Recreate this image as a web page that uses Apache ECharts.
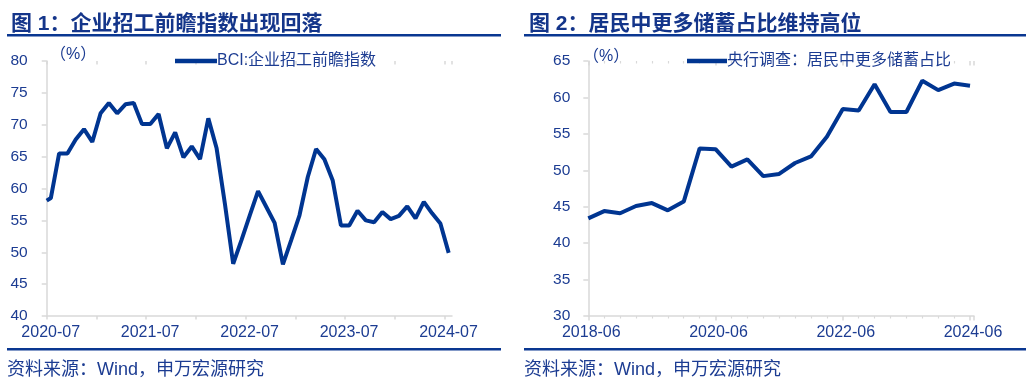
<!DOCTYPE html>
<html><head><meta charset="utf-8">
<script src="https://cdn.jsdelivr.net/npm/echarts@6/dist/echarts.min.js"></script>
<style>html,body{margin:0;padding:0;background:#fff}#c{width:1036px;height:382px}</style>
</head><body><div id="c"></div>
<script>
// ---- Figure 1: BCI hiring forward-looking index ----
const bciDates = ['2020-07-01','2020-07-16','2020-08-16','2020-09-16','2020-10-16','2020-11-16','2020-12-16',
  '2021-01-16','2021-02-16','2021-03-16','2021-04-16','2021-05-16','2021-06-16','2021-07-16','2021-08-16','2021-09-16','2021-10-16','2021-11-16','2021-12-16',
  '2022-01-16','2022-02-16','2022-03-16','2022-04-16','2022-05-16','2022-06-16','2022-07-16','2022-08-16','2022-09-16','2022-10-16','2022-11-16','2022-12-16',
  '2023-01-16','2023-02-16','2023-03-16','2023-04-16','2023-05-16','2023-06-16','2023-07-16','2023-08-16','2023-09-16','2023-10-16','2023-11-16','2023-12-16',
  '2024-01-16','2024-02-16','2024-03-16','2024-04-16','2024-05-16','2024-06-16','2024-07-16'];
const bciValues = [58.1,58.5,65.5,65.5,67.7,69.3,67.3,
  71.8,73.4,71.8,73.2,73.4,70.1,70.1,71.7,66.3,68.8,64.9,66.6,
  64.6,71.0,66.3,57.6,48.2,51.9,55.8,59.6,57.1,54.6,48.1,51.9,
  55.8,61.8,66.2,64.6,61.3,54.2,54.2,56.5,55.0,54.7,56.3,55.2,
  55.7,57.2,55.3,57.9,56.1,54.5,49.9];
const bciTickLabels = ['2020-07','2021-07','2022-07','2023-07','2024-07'];

// ---- Figure 2: PBOC survey, share of households preferring more saving ----
const saveQuarters = ['2018-06','2018-09','2018-12','2019-03','2019-06','2019-09','2019-12',
  '2020-03','2020-06','2020-09','2020-12','2021-03','2021-06','2021-09','2021-12',
  '2022-03','2022-06','2022-09','2022-12','2023-03','2023-06','2023-09','2023-12',
  '2024-03','2024-06'];
const saveValues = [43.4,44.4,44.1,45.1,45.5,44.5,45.7,
  53.0,52.9,50.5,51.5,49.2,49.5,51.0,51.9,
  54.6,58.4,58.2,61.8,58.0,58.0,62.3,61.0,
  61.9,61.6];
const saveTickLabels = ['2018-06','2020-06','2022-06','2024-06'];

const FONT = '"Liberation Sans", Arial, "Noto Sans CJK SC", sans-serif';
const BLUE_TXT = '#1c3c92';
const BLUE_LINE = '#003591';
const GRAY = '#d9d9d9';

function monthsFrom2007(s){const p=s.split('-').map(Number);return (p[0]-2020)*12+(p[1]-7)+(p[2]-1)/30;}
function quartersFrom1806(s){const p=s.split('-').map(Number);return (p[0]-2018)*4+(p[1]-6)/3;}

const bciData = bciDates.map((d,i)=>[monthsFrom2007(d), bciValues[i]]);
const saveData = saveQuarters.map((d,i)=>[quartersFrom1806(d), saveValues[i]]);

const chart = echarts.init(document.getElementById('c'));

function yAxisCfg(grid,min,max,margin){
  return {type:'value',gridIndex:grid,min:min,max:max,interval:5,
    axisLine:{show:true,lineStyle:{color:GRAY,width:1.5}},
    axisTick:{show:true,length:5,lineStyle:{color:GRAY,width:1.5}},
    splitLine:{show:false},
    axisLabel:{color:BLUE_TXT,fontSize:15.5,fontFamily:FONT,margin:margin}};
}

chart.setOption({
  animation:false,
  textStyle:{fontFamily:FONT},
  title:[
    {text:'图 1：企业招工前瞻指数出现回落',left:6,top:9,textStyle:{fontSize:21,fontWeight:'bold',color:'#14358a',fontFamily:FONT}},
    {text:'图 2：居民中更多储蓄占比维持高位',left:524,top:9,textStyle:{fontSize:21,fontWeight:'bold',color:'#14358a',fontFamily:FONT}}
  ],
  legend:[
    {data:['BCI:企业招工前瞻指数'],left:170,top:48,icon:'rect',itemWidth:42,itemHeight:4.5,itemGap:0,
     textStyle:{color:BLUE_TXT,fontSize:16,fontFamily:FONT,padding:[0,0,0,-5]}},
    {data:['央行调查：居民中更多储蓄占比'],left:682,top:48,icon:'rect',itemWidth:40,itemHeight:4.5,itemGap:0,
     textStyle:{color:BLUE_TXT,fontSize:16,fontFamily:FONT,padding:[0,0,0,-5]}}
  ],
  grid:[
    {left:46.7,right:584,top:61,bottom:66},
    {left:588.3,right:62,top:61,bottom:66}
  ],
  xAxis:[
    {type:'value',gridIndex:0,min:0,max:48.9,interval:6,
     axisLine:{show:true,lineStyle:{color:GRAY,width:1.5}},
     axisTick:{show:true,length:3.5,lineStyle:{color:GRAY,width:1.5}},
     splitLine:{show:false},
     axisLabel:{color:BLUE_TXT,fontSize:16,fontFamily:FONT,margin:9,padding:[0,0,0,8],showMaxLabel:false,
       formatter:function(v){return (Math.round(v)%12===0)?bciTickLabels[Math.round(v)/12]:'';}}},
    {type:'value',gridIndex:0,min:0,max:48.9,interval:6,
     axisLine:{show:false},axisLabel:{show:false},splitLine:{show:false},
     axisTick:{show:true,inside:true,length:3.5,lineStyle:{color:GRAY,width:1.5}}},
    {type:'value',gridIndex:1,min:0,max:24.25,interval:8,
     axisLine:{show:true,lineStyle:{color:GRAY,width:1.5}},
     axisTick:{show:true,length:4.5,lineStyle:{color:GRAY,width:1.5}},
     minorTick:{show:true,splitNumber:8,length:2.5,lineStyle:{color:GRAY,width:1.2}},
     splitLine:{show:false},
     axisLabel:{color:BLUE_TXT,fontSize:16,fontFamily:FONT,margin:9,padding:[0,0,0,6],showMaxLabel:false,
       formatter:function(v){return (Math.round(v)%8===0)?saveTickLabels[Math.round(v)/8]:'';}}},
    {type:'value',gridIndex:1,min:0,max:24.25,interval:8,
     axisLine:{show:false},axisLabel:{show:false},splitLine:{show:false},
     axisTick:{show:true,inside:true,length:4.5,lineStyle:{color:GRAY,width:1.5}},
     minorTick:{show:true,splitNumber:8,length:2.5,lineStyle:{color:GRAY,width:1.2}}}
  ],
  yAxis:[yAxisCfg(0,40,80,19), yAxisCfg(1,30,65,18)],
  series:[
    {name:'BCI:企业招工前瞻指数',type:'line',xAxisIndex:0,yAxisIndex:0,data:bciData,
     showSymbol:false,lineStyle:{color:BLUE_LINE,width:4},itemStyle:{color:BLUE_LINE}},
    {name:'央行调查：居民中更多储蓄占比',type:'line',xAxisIndex:2,yAxisIndex:1,data:saveData,
     showSymbol:false,lineStyle:{color:BLUE_LINE,width:4},itemStyle:{color:BLUE_LINE}}
  ],
  graphic:[
    {type:'rect',shape:{x:7,y:34,width:494,height:2.5},style:{fill:'#0a3791'}},
    {type:'rect',shape:{x:524,y:34,width:502,height:2.5},style:{fill:'#0a3791'}},
    {type:'rect',shape:{x:7,y:348,width:494,height:2.5},style:{fill:'#0a3791'}},
    {type:'rect',shape:{x:524,y:348,width:502,height:2.5},style:{fill:'#0a3791'}},
    {type:'text',left:50,top:47,style:{text:'（%）',fill:BLUE_TXT,fontSize:16,fontFamily:FONT}},
    {type:'text',left:583,top:49,style:{text:'（%）',fill:BLUE_TXT,fontSize:16,fontFamily:FONT}},
    {type:'text',left:7,top:361,style:{text:'资料来源：Wind，申万宏源研究',fill:BLUE_TXT,fontSize:18,fontFamily:FONT}},
    {type:'text',left:524,top:361,style:{text:'资料来源：Wind，申万宏源研究',fill:BLUE_TXT,fontSize:18,fontFamily:FONT}}
  ]
});
</script></body></html>
